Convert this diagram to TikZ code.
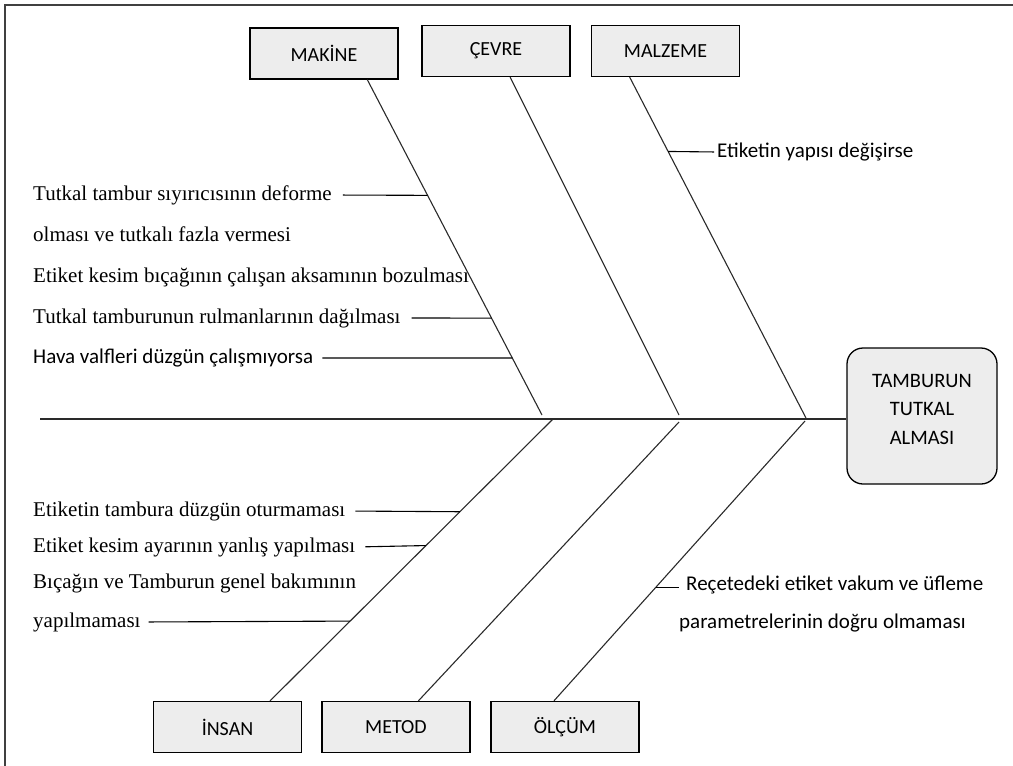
\documentclass[tikz,border=0pt]{standalone}
\usepackage{fontspec}
\setmainfont{Liberation Serif}
\newfontfamily\calib{Carlito}
\usetikzlibrary{calc}
\newcommand\serifsz{\fontsize{21}{24}\selectfont}
\newcommand\calsz{\calib\fontsize{21}{24}\selectfont}
\definecolor{boxfill}{HTML}{EDEDED}
\definecolor{framegray}{HTML}{404040}
\definecolor{linegray}{HTML}{2A2A2A}
\tikzset{
  catbox/.style={draw=black, line width=1.3pt, fill=boxfill, minimum width=148pt, minimum height=51pt, inner sep=0pt, font=\calib\fontsize{20}{24}\selectfont},
  effbox/.style={draw=black, line width=1.3pt, fill=boxfill, rounded corners=16pt, minimum width=150pt, minimum height=136pt, inner sep=0pt, align=center, font=\calib\fontsize{20.5}{28.5}\selectfont},
  lbl/.style={anchor=west, inner sep=0pt, font=\serifsz},
  clbl/.style={anchor=west, inner sep=0pt, font=\calsz},
  bone/.style={draw=linegray, line width=1.1pt},
  spine/.style={draw=linegray, line width=1.5pt},
  twig/.style={draw=black, line width=1.1pt},
  frameline/.style={draw=framegray, line width=2pt}
}
\begin{document}
\begin{tikzpicture}[x=1pt,y=-1pt]
\useasboundingbox (0,0) rectangle (1013,766);
\draw[frameline] (5,766) -- (5,5) -- (1013,5);

% category boxes
\node[catbox] (mak) at (324,53.5) {MAKİNE};
\node[catbox] (cev) at (496,51) {ÇEVRE};
\node[catbox] (mal) at (665.5,51) {MALZEME};
\node[catbox] (ins) at (227.5,727) {İNSAN};
\node[catbox] (met) at (396,727) {METOD};
\node[catbox] (olc) at (565,727) {ÖLÇÜM};

% effect
\node[effbox] (eff) at (922,416) {TAMBURUN\\TUTKAL\\ALMASI\\[-14.5pt]\mbox{}};

% spine
\coordinate (sp) at (40,419);
\draw[spine] (sp) -- (sp -| eff.west);

% bone ends
\coordinate (makT) at ($(mak.south west)!0.79!(mak.south east)$);
\coordinate (makB) at (542,415);
\coordinate (cevT) at ($(cev.south west)!0.595!(cev.south east)$);
\coordinate (cevB) at (679,415);
\coordinate (malT) at ($(mal.south west)!0.26!(mal.south east)$);
\coordinate (malB) at (806,418);
\coordinate (insT) at ($(ins.north west)!0.785!(ins.north east)$);
\coordinate (insB) at (553,419);
\coordinate (metT) at ($(met.north west)!0.65!(met.north east)$);
\coordinate (metB) at (679,422);
\coordinate (olcT) at ($(olc.north west)!0.426!(olc.north east)$);
\coordinate (olcB) at (805,421);

\draw[bone] (makT) -- (makB);
\draw[bone] (cevT) -- (cevB);
\draw[bone] (malT) -- (malB);
\draw[bone] (insB) -- (insT);
\draw[bone] (metB) -- (metT);
\draw[bone] (olcB) -- (olcT);

% MAKİNE causes
\node[lbl] (m1) at (33,195) {Tutkal tambur sıyırıcısının deforme};
\node[lbl] (m2) at (33,234) {olması ve tutkalı fazla vermesi};
\node[lbl] (m3) at (33,277) {Etiket kesim bıçağının çalışan aksamının bozulması};
\node[lbl] (m4) at (33,318) {Tutkal tamburunun rulmanlarının dağılması};
\node[clbl] (m5) at (33,358) {Hava valfleri düzgün çalışmıyorsa};
\coordinate (mb1) at ($(makT)!0.345!(makB)$);
\coordinate (mb4) at ($(makT)!0.711!(makB)$);
\coordinate (mb5) at ($(makT)!0.830!(makB)$);
\draw[twig, shorten <=11pt] (m1.east) -- (mb1);
\draw[twig, shorten <=11pt] (m4.east) -- (mb4);
\draw[twig, shorten <=9pt] (m5.east) -- (mb5);

% MALZEME cause
\node[clbl] (z1) at (717,152) {Etiketin yapısı değişirse};
\coordinate (zb1) at ($(malT)!0.218!(malB)$);
\draw[twig, shorten >=3pt] (zb1) -- (z1.west);

% İNSAN causes
\node[lbl] (i1) at (33,511) {Etiketin tambura düzgün oturmaması};
\node[lbl] (i2) at (33,547) {Etiket kesim ayarının yanlış yapılması};
\node[lbl] (i3) at (33,583) {Bıçağın ve Tamburun genel bakımının};
\node[lbl] (i4) at (33,622) {yapılmaması};
\coordinate (ib1) at ($(insB)!0.329!(insT)$);
\coordinate (ib2) at ($(insB)!0.449!(insT)$);
\coordinate (ib4) at ($(insB)!0.717!(insT)$);
\draw[twig, shorten <=10pt] (i1.east) -- (ib1);
\draw[twig, shorten <=10pt] (i2.east) -- (ib2);
\draw[twig, shorten <=8pt] (i4.east) -- (ib4);

% ÖLÇÜM cause
\node[clbl] (o1) at (686,585) {Reçetedeki etiket vakum ve üfleme};
\node[clbl] (o2) at (679,623) {parametrelerinin doğru olmaması};
\coordinate (ob1) at ($(olcB)!0.594!(olcT)$);
\draw[twig, shorten >=7pt] (ob1) -- (ob1 -| o1.west);
\end{tikzpicture}
\end{document}
